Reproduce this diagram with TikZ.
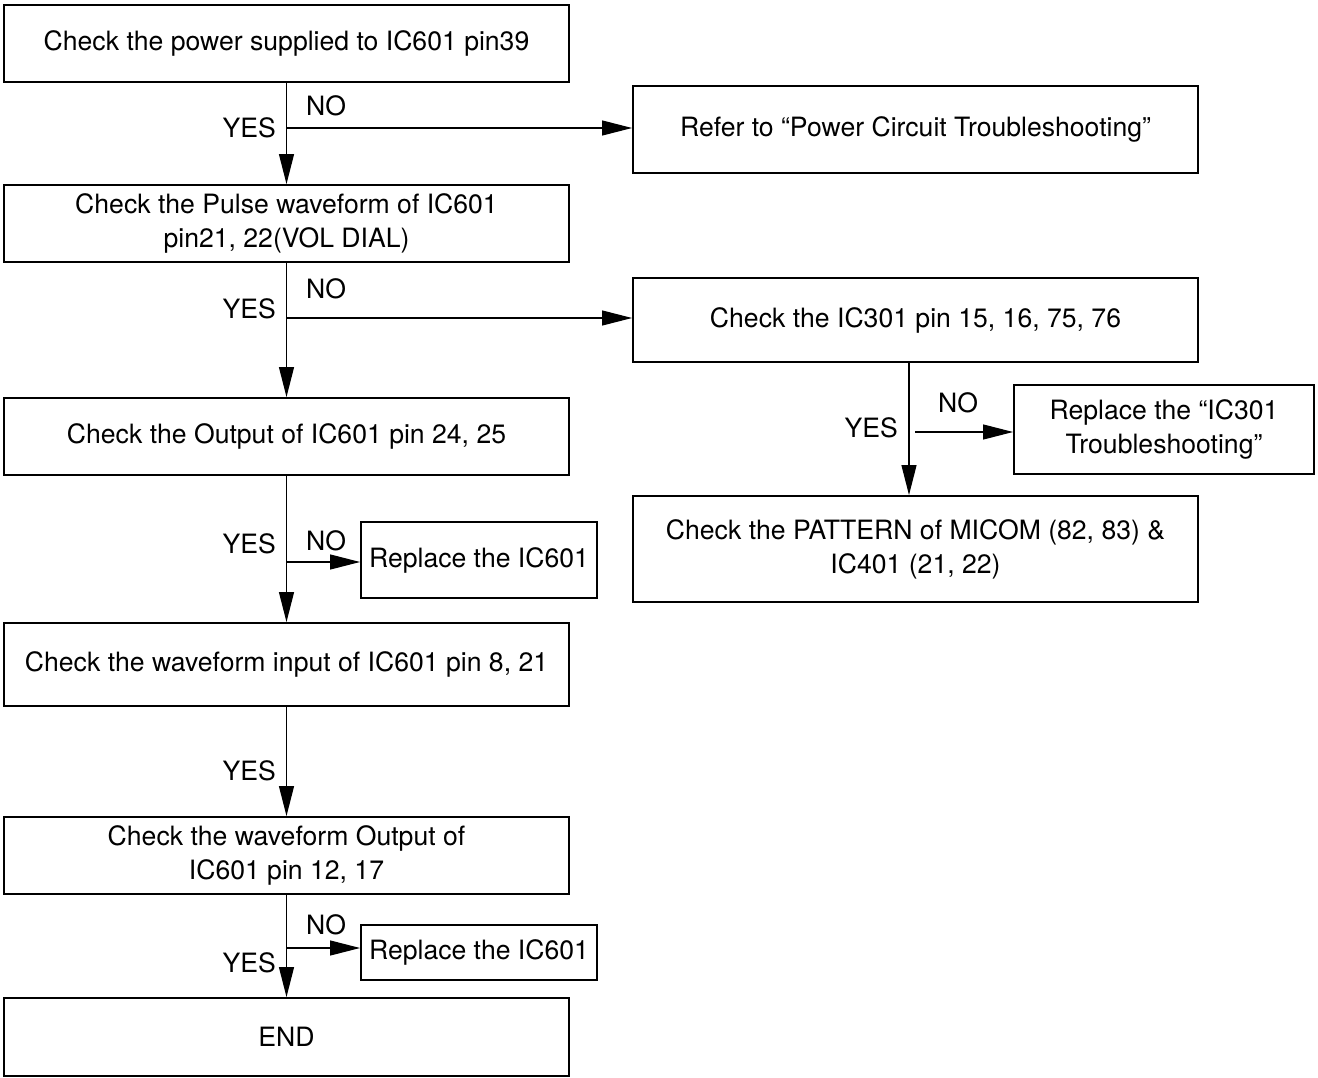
\documentclass[tikz,border=0pt]{standalone}
\usepackage{fontspec}
\setmainfont{TeX Gyre Heros}
\usetikzlibrary{arrows.meta}
\begin{document}
\begin{tikzpicture}[x=1pt,y=-1pt,
  box/.style={draw,line width=1.9pt,rectangle,inner sep=0pt,align=center,
    font=\fontsize{26.6}{34}\selectfont},
  wide/.style={box,minimum width=565pt},
  lbl/.style={inner sep=0pt,font=\fontsize{26.6}{30}\selectfont},
  flow/.style={line width=1.2pt,-{Triangle[length=30pt,width=15pt]}}]
\useasboundingbox (0,0) rectangle (1318,1078);

% main column
\node[wide,minimum height=77pt] (b1) at (286.5,43.5) {Check the power supplied to IC601 pin39};
\node[wide,minimum height=77pt] (b2) at (286.5,223.5) {Check the Pulse waveform of IC601\\pin21, 22(VOL DIAL)};
\node[wide,minimum height=77pt] (b3) at (286.5,436.5) {Check the Output of IC601 pin 24, 25};
\node[wide,minimum height=83pt] (b4) at (286.5,664.5) {Check the waveform input of IC601 pin 8, 21};
\node[wide,minimum height=77pt] (b5) at (286.5,855.5) {Check the waveform Output of\\IC601 pin 12, 17};
\node[wide,minimum height=78pt] (end) at (286.5,1037) {END};

% side boxes
\node[wide,minimum height=87pt] (refer) at (915.5,129.5) {Refer to “Power Circuit Troubleshooting”};
\node[wide,minimum height=84pt] (ic301) at (915.5,320) {Check the IC301 pin 15, 16, 75, 76};
\node[box,minimum width=300pt,minimum height=89pt] (r301) at (1164,429.5) {Replace the “IC301\\Troubleshooting”};
\node[wide,minimum height=106pt] (pat) at (915.5,549) {Check the PATTERN of MICOM (82, 83) \&\\IC401 (21, 22)};
\node[box,minimum width=236pt,minimum height=76pt] (rep1) at (479,560) {Replace the IC601};
\node[box,minimum width=236pt,minimum height=55pt] (rep2) at (479,952.5) {Replace the IC601};

% YES path
\draw[flow] (b1) -- (b2);
\draw[flow] (b2) -- (b3);
\draw[flow] (b3) -- (b4);
\draw[flow] (b4) -- (b5);
\draw[flow] (b5) -- (end);
\coordinate (s3) at (909,0);
\draw[flow] (s3 |- ic301.south) -- (s3 |- pat.north);

% NO branches
\coordinate (j1) at (286.5,128);
\draw[flow] (j1) -- (j1 -| refer.west);
\coordinate (j2) at (286.5,318);
\draw[flow] (j2) -- (j2 -| ic301.west);
\coordinate (j3) at (915,432);
\draw[flow] (j3) -- (j3 -| r301.west);
\coordinate (j4) at (286.5,562);
\draw[flow] (j4) -- (j4 -| rep1.west);
\coordinate (j5) at (286.5,948);
\draw[flow] (j5) -- (j5 -| rep2.west);

% labels
\node[lbl] (no1) at (326,106) {NO};
\node[lbl,anchor=east] (yes1) at (276,128) {YES};
\node[lbl] (no2) at (326,289) {NO};
\node[lbl,anchor=east] (yes2) at (276,309) {YES};
\node[lbl] (no3) at (958,403) {NO};
\node[lbl,anchor=east] (yes3) at (898,428) {YES};
\node[lbl] (no4) at (326,541) {NO};
\node[lbl,anchor=east] (yes4) at (276,544) {YES};
\node[lbl,anchor=east] (yes5) at (276,771) {YES};
\node[lbl] (no6) at (326,925) {NO};
\node[lbl,anchor=east] (yes6) at (276,963) {YES};
\end{tikzpicture}
\end{document}
